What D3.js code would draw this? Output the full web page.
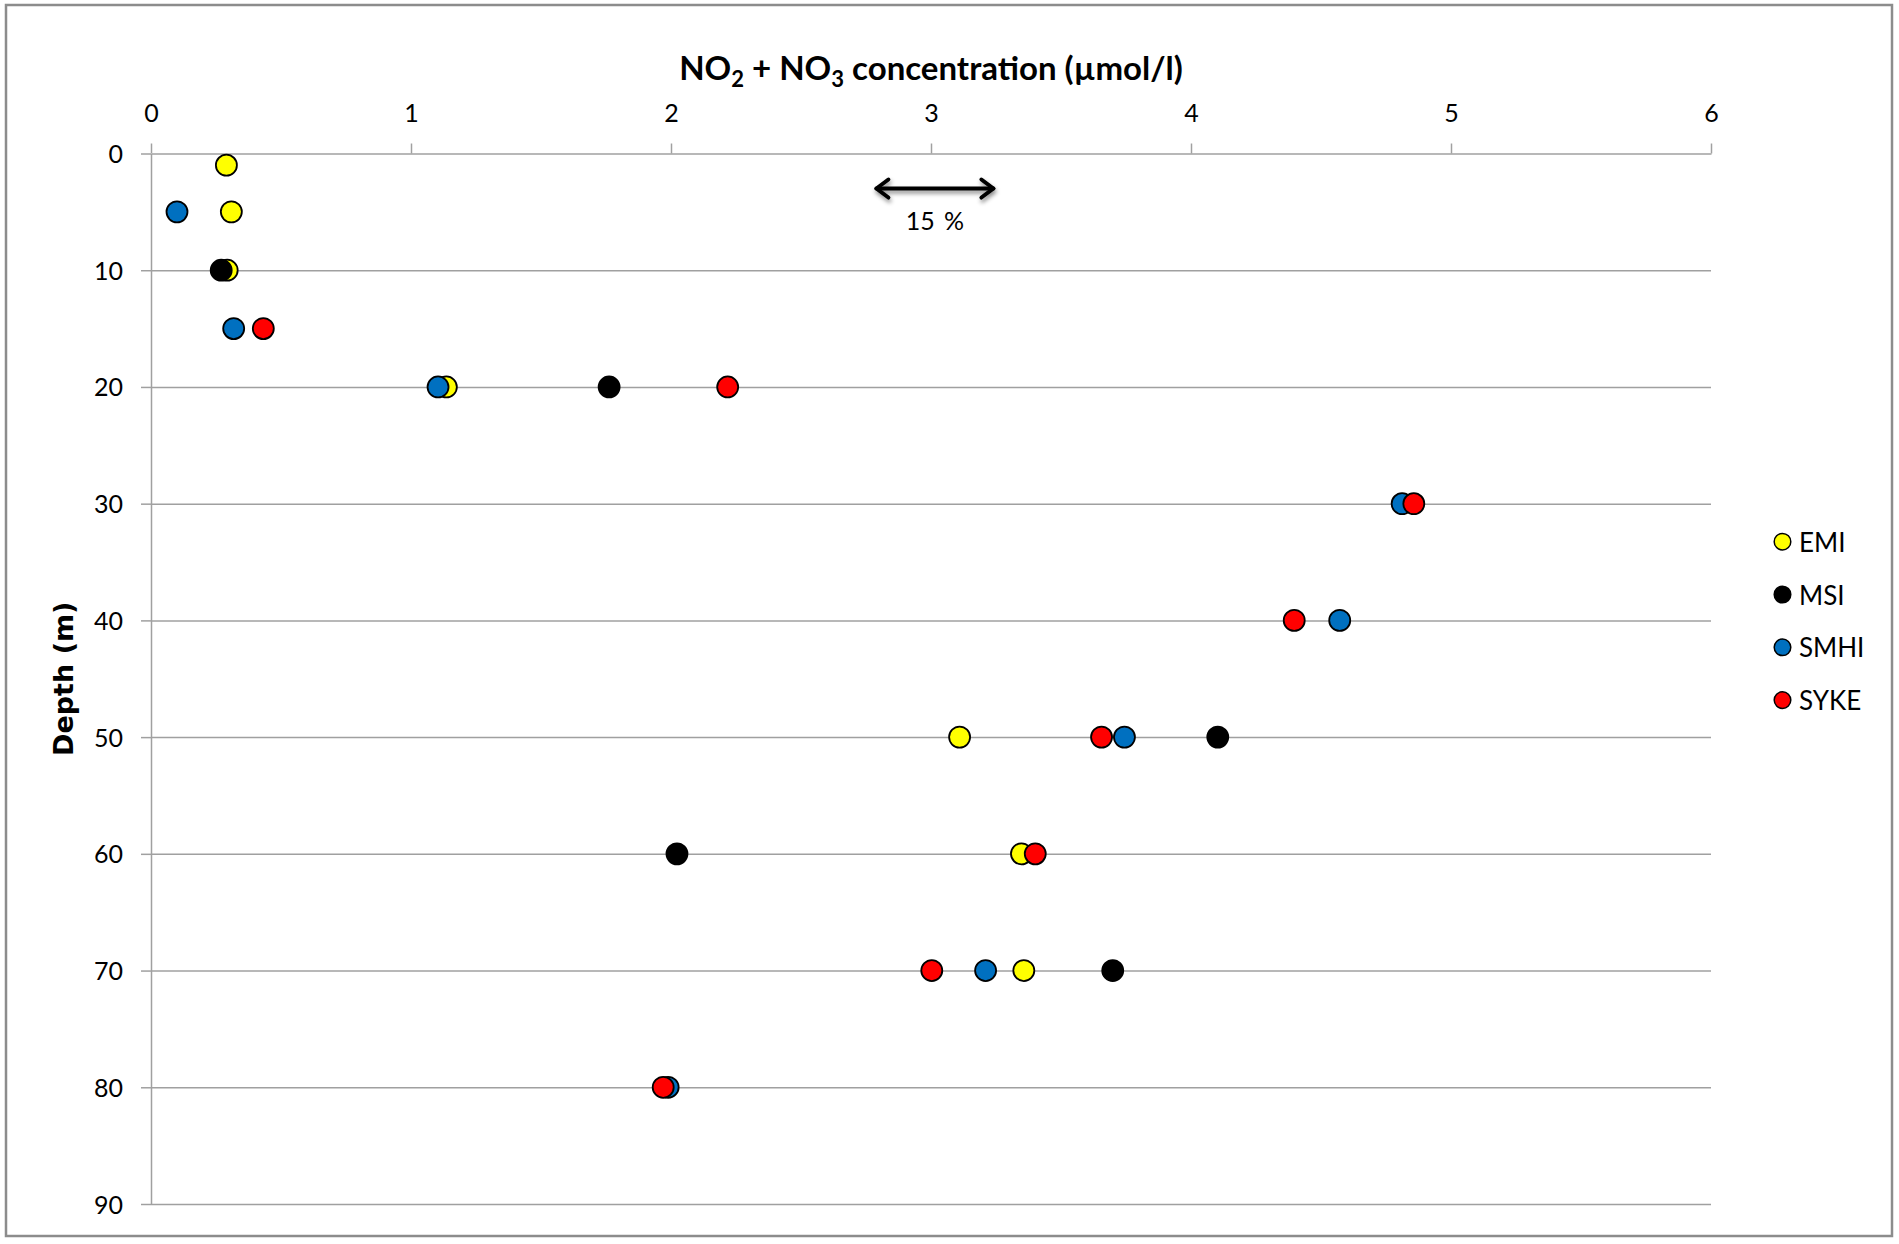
<!DOCTYPE html>
<html>
<head>
<meta charset="utf-8">
<script src="https://cdn.jsdelivr.net/npm/d3@7"></script>
<style>
  body { margin: 0; background: #fff; }
  svg text { font-family: Lato, "Open Sans", sans-serif; fill: #000; }
</style>
</head>
<body>
<div id="chart"></div>
<script>
// depth (m) of each sample row
var depths = [1, 5, 10, 15, 20, 30, 40, 50, 60, 70, 80];

// NO2 + NO3 (umol/l) per lab, null = no sample at that depth
var emiValues  = [0.29, 0.309, 0.293, null, 1.136, null, null, 3.11, 3.348, 3.357, null];
var msiValues  = [null, null, 0.27, null, 1.762, null, null, 4.103, 2.023, 3.699, null];
var smhiValues = [null, 0.10, null, 0.318, 1.104, 4.812, 4.572, 3.744, null, 3.21, 1.989];
var sykeValues = [null, null, null, 0.432, 2.218, 4.857, 4.397, 3.656, 3.401, 3.003, 1.97];

var labNames  = ["EMI", "MSI", "SMHI", "SYKE"];
var labColors = ["#ffff00", "#000000", "#0070c0", "#ff0000"];

var xTicks = [0, 1, 2, 3, 4, 5, 6];
var yTicks = [0, 10, 20, 30, 40, 50, 60, 70, 80, 90];

// 15 % spread annotation around 3 umol/l
var spreadFrom = 2.79, spreadTo = 3.24, spreadDepth = 3, spreadLabel = "15 %";

function drawChart() {
  var WIDTH = 1899, HEIGHT = 1244;
  var PLOT = { left: 151, right: 1711, top: 153.5, bottom: 1204 };
  var gridColor = "#a0a0a0";

  var svg = d3.select("#chart").append("svg")
    .attr("width", WIDTH)
    .attr("height", HEIGHT);

  var defs = svg.append("defs");
  defs.append("filter").attr("id", "shadow")
    .attr("x", "-20%").attr("y", "-100%").attr("width", "140%").attr("height", "300%")
    .append("feDropShadow")
    .attr("dx", 1).attr("dy", 3).attr("stdDeviation", 2)
    .attr("flood-color", "#000").attr("flood-opacity", 0.45);

  // outer frame
  svg.append("rect")
    .attr("x", 6).attr("y", 5)
    .attr("width", 1886).attr("height", 1231)
    .attr("fill", "#fff")
    .attr("stroke", "#8c8c8c")
    .attr("stroke-width", 2.5);

  var xScale = d3.scaleLinear().domain([0, 6]).range([PLOT.left, PLOT.right]);
  var yScale = d3.scaleLinear().domain([0, 90]).range([PLOT.top, PLOT.bottom]);

  // horizontal grid lines
  svg.append("g")
    .attr("class", "grid")
    .attr("transform", "translate(" + PLOT.left + ",0)")
    .call(d3.axisRight(yScale).tickValues(yTicks.slice(1)).tickSize(PLOT.right - PLOT.left).tickFormat(""))
    .call(function(g) { g.select(".domain").remove(); })
    .selectAll("line").attr("stroke", gridColor).attr("stroke-width", 1.5);

  // x axis on top
  var gX = svg.append("g")
    .attr("transform", "translate(0," + PLOT.top + ")")
    .call(d3.axisTop(xScale).tickValues(xTicks).tickSize(10).tickSizeOuter(0).tickFormat(d3.format("d")));
  gX.select(".domain").attr("stroke", gridColor).attr("stroke-width", 1.5);
  gX.selectAll(".tick line").attr("stroke", gridColor).attr("stroke-width", 1.5);
  gX.selectAll(".tick text")
    .attr("y", -32).attr("dy", 0)
    .style("font-size", "25px");

  // y axis
  var gY = svg.append("g")
    .attr("transform", "translate(" + PLOT.left + ",0)")
    .call(d3.axisLeft(yScale).tickValues(yTicks).tickSize(10).tickSizeOuter(0).tickFormat(d3.format("d")));
  gY.select(".domain").attr("stroke", gridColor).attr("stroke-width", 1.5);
  gY.selectAll(".tick line").attr("stroke", gridColor).attr("stroke-width", 1.5);
  gY.selectAll(".tick text")
    .attr("x", -28).attr("dy", "0.36em")
    .style("font-size", "25px");

  // title
  var title = svg.append("text")
    .attr("x", (PLOT.left + PLOT.right) / 2)
    .attr("y", 80)
    .attr("text-anchor", "middle")
    .style("font-size", "33px")
    .style("font-weight", "bold");
  title.append("tspan").text("NO");
  title.append("tspan").attr("dy", 7).style("font-size", "22px").text("2");
  title.append("tspan").attr("dy", -7).text(" + NO");
  title.append("tspan").attr("dy", 7).style("font-size", "22px").text("3");
  title.append("tspan").attr("dy", -7).text(" concentration (\u00b5mol/l)");

  // y label
  svg.append("text")
    .attr("transform", "translate(64," + ((PLOT.top + PLOT.bottom) / 2) + ") rotate(-90)")
    .attr("text-anchor", "middle")
    .attr("dy", "0.35em")
    .style("font-family", "'DejaVu Sans', sans-serif")
    .style("font-size", "27px")
    .style("font-weight", "bold")
    .text("Depth (m)");

  // spread arrow
  var ay = yScale(spreadDepth), ax1 = xScale(spreadFrom), ax2 = xScale(spreadTo);
  var arrow = svg.append("g").attr("filter", "url(#shadow)")
    .attr("fill", "none").attr("stroke", "#000").attr("stroke-width", 4)
    .attr("stroke-linecap", "round").attr("stroke-linejoin", "round");
  arrow.append("path").attr("d", "M" + ax1 + "," + ay + "H" + ax2);
  arrow.append("path").attr("d", "M" + (ax1 + 12) + "," + (ay - 9) + "L" + ax1 + "," + ay + "L" + (ax1 + 12) + "," + (ay + 9));
  arrow.append("path").attr("d", "M" + (ax2 - 12) + "," + (ay - 9) + "L" + ax2 + "," + ay + "L" + (ax2 - 12) + "," + (ay + 9));
  svg.append("text")
    .attr("x", xScale((spreadFrom + spreadTo) / 2))
    .attr("y", ay + 41)
    .attr("text-anchor", "middle")
    .style("font-size", "25px")
    .style("word-spacing", "3px")
    .text(spreadLabel);

  // points, drawn lab by lab so later labs sit on top
  var series = [emiValues, msiValues, smhiValues, sykeValues];
  var points = svg.append("g");
  series.forEach(function(vals, i) {
    var pts = depths.map(function(d, j) { return { depth: d, value: vals[j] }; })
      .filter(function(p) { return p.value != null; });
    points.append("g").selectAll("circle").data(pts).enter()
      .append("circle")
      .attr("cx", function(p) { return xScale(p.value); })
      .attr("cy", function(p) { return yScale(p.depth); })
      .attr("r", 10.5)
      .attr("fill", labColors[i])
      .attr("stroke", "#000")
      .attr("stroke-width", 1.8);
  });

  // legend
  var legend = svg.append("g").attr("class", "legend");
  labNames.forEach(function(name, i) {
    var ly = 541.7 + i * 52.8;
    legend.append("circle")
      .attr("cx", 1782.5).attr("cy", ly).attr("r", 8.3)
      .attr("fill", labColors[i]).attr("stroke", "#000").attr("stroke-width", 1.5);
    legend.append("text")
      .attr("x", 1799).attr("y", ly + 1)
      .attr("dy", "0.35em")
      .style("font-size", "26px")
      .text(name);
  });
}

drawChart();
</script>
</body>
</html>
